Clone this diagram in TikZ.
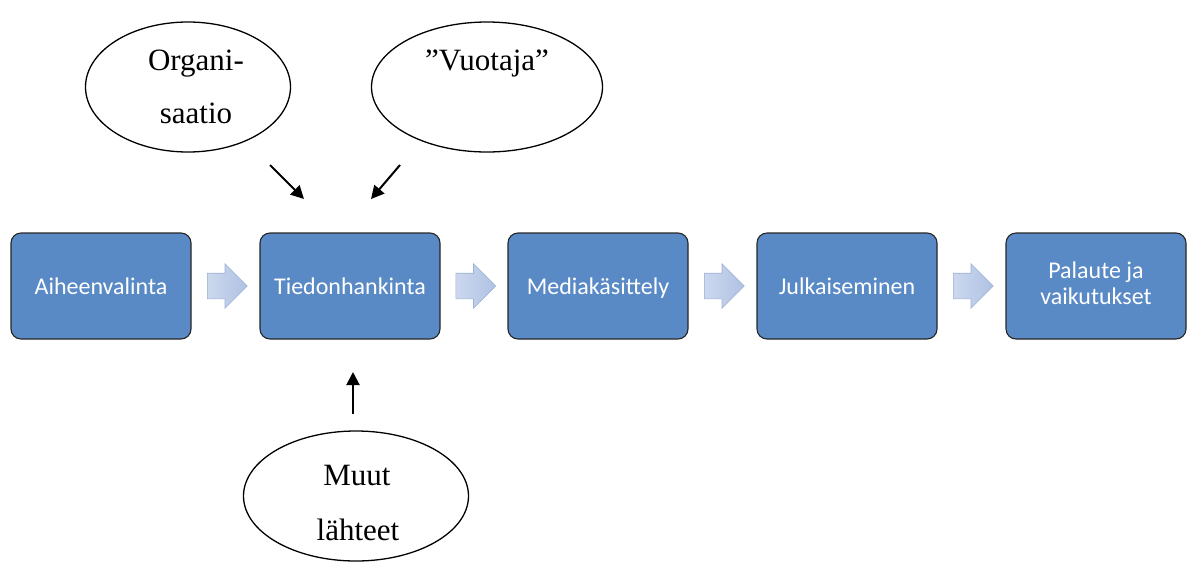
\documentclass[tikz,border=0pt]{standalone}
\usepackage{fontspec}
\setmainfont{Liberation Serif}
\newfontfamily\boxfont{Carlito}
\usetikzlibrary{shapes.geometric,shapes.arrows,arrows.meta,calc}
\definecolor{boxblue}{HTML}{5A8AC6}
\definecolor{arrleft}{HTML}{CCD8EE}
\definecolor{arrright}{HTML}{AFC2E3}
\definecolor{arrdraw}{HTML}{9EB2D4}
\newcommand{\boxstrut}{\rule[-5.5pt]{0pt}{28pt}}
\begin{document}
\begin{tikzpicture}[x=1pt,y=-1pt,
  stage/.style={draw=black!85, line width=1.1pt, fill=boxblue, rounded corners=10pt,
    minimum width=180pt, minimum height=106pt, text=white, align=center, inner sep=0pt,
    font=\boxfont\fontsize{24}{26}\selectfont,
    execute at begin node={\boxstrut}, execute at end node={\boxstrut}},
  flow/.style={single arrow, draw=arrdraw, line width=0.6pt, left color=arrleft, right color=arrright,
    minimum width=44pt, minimum height=40pt, inner sep=12.5pt, single arrow head extend=9.5pt,
    anchor=tail},
  source/.style={ellipse, draw=black, line width=1.3pt, inner sep=0pt},
  srctext/.style={anchor=base, font=\fontsize{31}{31}\selectfont},
  ptr/.style={line width=2pt, -{Triangle[length=13pt,width=13pt]}}
]
\useasboundingbox (0,0) rectangle (1193,563);

% process boxes
\node[stage] (b1) at (101,286) {Aiheenvalinta};
\node[stage] (b2) at (350,286) {Tiedonhankinta};
\node[stage] (b3) at (598,286) {Mediakäsittely};
\node[stage] (b4) at (847,286) {Julkaiseminen};
\node[stage] (b5) at (1096,286) {Palaute ja\\vaikutukset};

% block arrows between boxes
\node[flow] (f1) at ($(b1.east)!0.5!(b2.west)+(-18.5,0)$) {};
\node[flow] (f2) at ($(b2.east)!0.5!(b3.west)+(-18.5,0)$) {};
\node[flow] (f3) at ($(b3.east)!0.5!(b4.west)+(-18.5,0)$) {};
\node[flow] (f4) at ($(b4.east)!0.5!(b5.west)+(-18.5,0)$) {};

% source ellipses
\node[source, minimum width=205pt, minimum height=130pt] (org) at (188,87) {};
\node[source, minimum width=231pt, minimum height=130pt] (vuo) at (487,87) {};
\node[source, minimum width=225pt, minimum height=130pt] (muu) at (356,496) {};

\node[srctext] (orgt1) at (196,70) {Organi-};
\node[srctext] (orgt2) at (196,123) {saatio};
\node[srctext] (vuot) at (487,70) {”Vuotaja”};
\node[srctext] (muut1) at (357,485) {Muut};
\node[srctext] (muut2) at (358,540) {lähteet};

% small arrows
\coordinate (p1s) at (270,165);
\coordinate (p1e) at (304,199);
\coordinate (p2s) at (400,165);
\coordinate (p2e) at (371,199);
\coordinate (p3s) at (353,414);
\coordinate (p3e) at (353,372);
\draw[ptr] (p1s) -- (p1e);
\draw[ptr] (p2s) -- (p2e);
\draw[ptr] (p3s) -- (p3e);
\end{tikzpicture}
\end{document}
